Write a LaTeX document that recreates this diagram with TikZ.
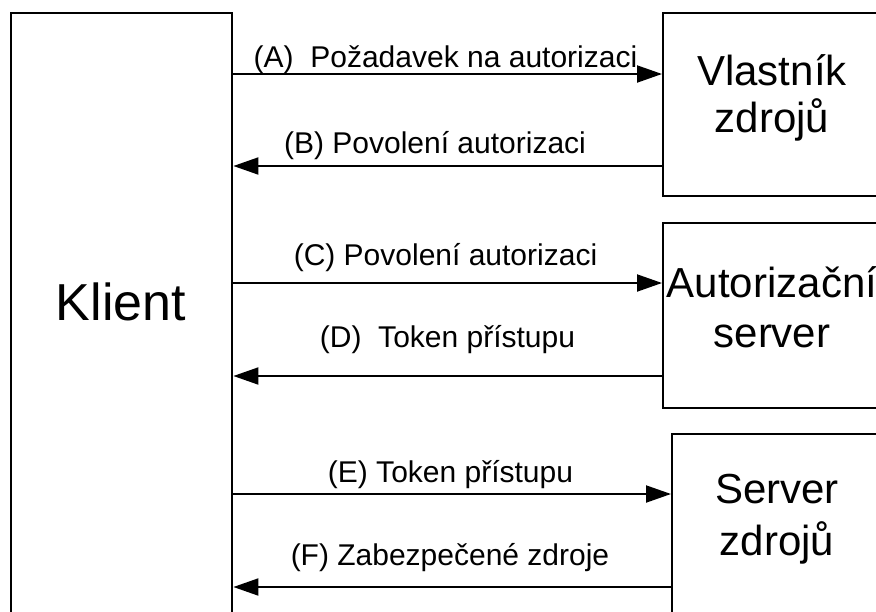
\documentclass[tikz,border=0pt]{standalone}
\usepackage{fontspec}
\setmainfont{Liberation Sans}
\usetikzlibrary{arrows.meta}
\begin{document}
\begin{tikzpicture}[x=1pt,y=-1pt,
  box/.style={draw, line width=2.4pt, rectangle, inner sep=0pt, anchor=north west},
  conn/.style={line width=2pt, -{Triangle[length=25pt,width=17pt]}},
  lbl/.style={font=\fontsize{30}{36}\selectfont, anchor=base, inner sep=0pt},
  boxtxt/.style={font=\fontsize{42}{48}\selectfont, align=center, anchor=base, inner sep=0pt}]
\useasboundingbox (0,0) rectangle (876,611);
\fill[white] (0,0) rectangle (876,611);
\clip (0,0) rectangle (876,611);

% participants
\node[box, minimum width=221pt, minimum height=640pt] (klient) at (10,12) {};
\node[box, minimum width=220pt, minimum height=183pt] (owner) at (662,12) {};
\node[box, minimum width=220pt, minimum height=185pt] (authsrv) at (662,222) {};
\node[box, minimum width=212pt, minimum height=220pt] (ressrv) at (671,433) {};

% participant names (base = baseline of the last line)
\node[boxtxt, font=\fontsize{52}{60}\selectfont] (klienttxt) at (121,320) {Klient};
\node[boxtxt, font=\fontsize{42}{47}\selectfont] (ownertxt) at (772,132) {Vlastník\\zdrojů};
\node[boxtxt, font=\fontsize{42}{50}\selectfont] (authtxt) at (772,347) {Autorizační\\server};
\node[boxtxt, font=\fontsize{42}{52}\selectfont] (restxt) at (777,555) {Server\\zdrojů};

% message rows
\coordinate (ra) at (0,74);
\coordinate (rb) at (0,166);
\coordinate (rc) at (0,283);
\coordinate (rd) at (0,376);
\coordinate (re) at (0,494);
\coordinate (rf) at (0,587);

\draw[conn] (klient.east |- ra) -- (owner.west |- ra);
\draw[conn] (owner.west |- rb) -- (klient.east |- rb);
\draw[conn] (klient.east |- rc) -- (authsrv.west |- rc);
\draw[conn] (authsrv.west |- rd) -- (klient.east |- rd);
\draw[conn] (klient.east |- re) -- (ressrv.west |- re);
\draw[conn] (ressrv.west |- rf) -- (klient.east |- rf);

% message labels
\node[lbl] (la) at (445.5,67) {(A)\ \ Požadavek na autorizaci};
\node[lbl] (lb) at (435,153) {(B) Povolení autorizaci};
\node[lbl] (lc) at (445.5,265) {(C) Povolení autorizaci};
\node[lbl] (ld) at (447.5,347) {(D)\ \ Token přístupu};
\node[lbl] (le) at (450.5,482) {(E) Token přístupu};
\node[lbl] (lf) at (450,565) {(F) Zabezpečené zdroje};
\end{tikzpicture}
\end{document}
